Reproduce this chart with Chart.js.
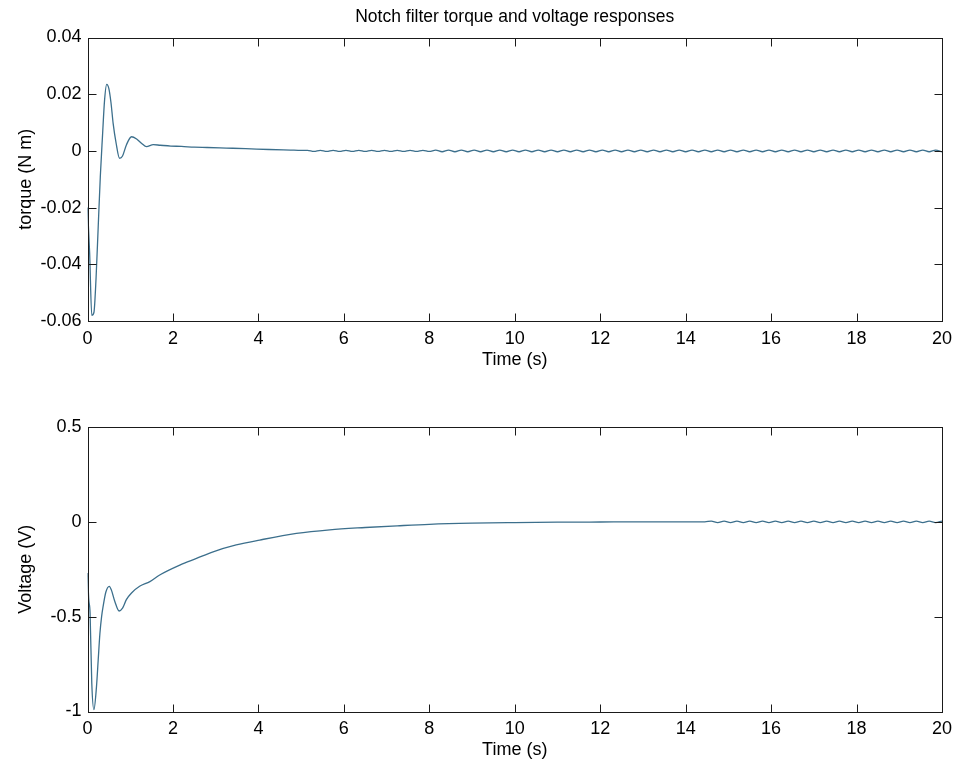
<!DOCTYPE html>
<html>
<head>
<meta charset="utf-8">
<title>Notch filter torque and voltage responses</title>
<script src="https://cdn.jsdelivr.net/npm/chart.js@4.4.1/dist/chart.umd.min.js"></script>
<style>
body{margin:0;background:#fff;}
#torque_box{position:absolute;left:0;top:0;width:959px;height:385px;}
#voltage_box{position:absolute;left:0;top:385px;width:959px;height:384px;}
</style>
</head>
<body>
<div id="torque_box"><canvas id="torque_chart"></canvas></div>
<div id="voltage_box"><canvas id="voltage_chart"></canvas></div>
<script>
//Data
var torque_time = [0, 0.05, 0.1, 0.15, 0.2, 0.25, 0.3, 0.35, 0.4, 0.45, 0.5, 0.55, 0.6, 0.67, 0.75, 0.82, 0.91, 1.03, 1.15, 1.27,
	1.38, 1.54, 1.7, 1.95, 2.2, 2.5, 2.8, 3.25, 3.7, 4.25, 4.75, 5.0,
	5.15,5.3,5.45,5.6,5.75,5.9,6.05,6.2,6.35,6.5,
	6.65,6.8,6.95,7.1,7.25,7.4,7.55,7.7,7.85,8,
	8.15,8.3,8.45,8.6,8.75,8.9,9.05,9.2,9.35,9.5,
	9.65,9.8,9.95,10.1,10.25,10.4,10.55,10.7,10.85,11,
	11.15,11.3,11.45,11.6,11.75,11.9,12.05,12.2,12.35,12.5,
	12.65,12.8,12.95,13.1,13.25,13.4,13.55,13.7,13.85,14,
	14.15,14.3,14.45,14.6,14.75,14.9,15.05,15.2,15.35,15.5,
	15.65,15.8,15.95,16.1,16.25,16.4,16.55,16.7,16.85,17,
	17.15,17.3,17.45,17.6,17.75,17.9,18.05,18.2,18.35,18.5,
	18.65,18.8,18.95,19.1,19.25,19.4,19.55,19.7,19.85,20];
var torque_nm = [-0.020, -0.036, -0.058, -0.057, -0.045, -0.027, -0.009, 0.005, 0.018, 0.0235, 0.022, 0.017, 0.0097, 0.0027, -0.0026, -0.0018, 0.0021, 0.0050, 0.0042, 0.0026,
	0.0015, 0.0022, 0.0020, 0.0017, 0.0016, 0.0013, 0.0012, 0.0010, 0.0008, 0.0005, 0.0003, 0.0002,
	0.0002,-0.0002,0.0002,-0.0002,0.0002,-0.0002,0.0002,-0.0002,0.0002,-0.0002,
	0.0002,-0.0002,0.0002,-0.0002,0.0002,-0.0002,0.0002,-0.0002,0.0002,-0.0002,
	0.0003,-0.0003,0.0003,-0.0003,0.0003,-0.0003,0.0003,-0.0003,0.0003,-0.0003,
	0.0003,-0.0003,0.0003,-0.0003,0.0003,-0.0003,0.0003,-0.0003,0.0003,-0.0003,
	0.0003,-0.0003,0.0003,-0.0003,0.0003,-0.0003,0.0003,-0.0003,0.0003,-0.0003,
	0.0003,-0.0003,0.0003,-0.0003,0.0003,-0.0003,0.0003,-0.0003,0.0003,-0.0003,
	0.0003,-0.0003,0.0003,-0.0003,0.0003,-0.0003,0.0003,-0.0003,0.0003,-0.0003,
	0.0003,-0.0003,0.0003,-0.0003,0.0003,-0.0003,0.0003,-0.0003,0.0003,-0.0003,
	0.0003,-0.0003,0.0003,-0.0003,0.0003,-0.0003,0.0003,-0.0003,0.0003,-0.0003,
	0.0003,-0.0003,0.0003,-0.0003,0.0003,-0.0003,0.0003,-0.0003,0.0003,-0.0003];

var voltage_time = [0, 0.03, 0.06, 0.1, 0.15, 0.21, 0.25, 0.29, 0.33, 0.37, 0.43, 0.51, 0.56, 0.64, 0.74, 0.82, 0.91, 1.03, 1.22, 1.46,
	1.69, 2.16, 2.55, 2.94, 3.48, 4.03, 4.89, 5.67, 6.5, 7.25, 8, 9, 10, 11, 12, 13, 14, 14.45,
	14.6,14.75,14.9,15.05,15.2,15.35,15.5,
	15.65,15.8,15.95,16.1,16.25,16.4,16.55,16.7,16.85,17,
	17.15,17.3,17.45,17.6,17.75,17.9,18.05,18.2,18.35,18.5,
	18.65,18.8,18.95,19.1,19.25,19.4,19.55,19.7,19.85,20];
var voltage_v = [-0.27, -0.41, -0.48, -0.85, -0.99, -0.87, -0.73, -0.59, -0.50, -0.44, -0.37, -0.34, -0.36, -0.42, -0.47, -0.455, -0.41, -0.375, -0.34, -0.315,
	-0.28, -0.228, -0.193, -0.158, -0.122, -0.096, -0.061, -0.042, -0.030, -0.021, -0.013, -0.007, -0.004, -0.002, -0.001, 0, 0, 0,
	0.004,-0.004,0.004,-0.004,0.004,-0.004,0.004,
	-0.004,0.004,-0.004,0.004,-0.004,0.004,-0.004,0.004,-0.004,0.004,
	-0.004,0.004,-0.004,0.004,-0.004,0.004,-0.004,0.004,-0.004,0.004,
	-0.004,0.004,-0.004,0.004,-0.004,0.004,-0.004,0.004,-0.004,0.004];

var x_ticks_step = 2;
var torque_axis = {min: -0.06, max: 0.04, step: 0.02};
var voltage_axis = {min: -1, max: 0.5, step: 0.5};
var figure_title = 'Notch filter torque and voltage responses';

var line_color = '#3c6f8c';
var text_font = {family: '"Liberation Sans", Arial, sans-serif', size: 18};

Chart.defaults.font.family = '"Liberation Sans", Arial, sans-serif';
Chart.defaults.color = '#000';

//MATLAB style box with inward ticks on every side (+ optional title centred over the axes)
var matlab_axes_plugin = {
	id: 'matlab_axes',
	afterDraw: function(chart, args, opts)
	{
		var ctx = chart.ctx, a = chart.chartArea;
		var xs = chart.scales.x, ys = chart.scales.y;
		var L = Math.round(a.left) + 0.5, R = Math.round(a.right) + 0.5;
		var T = Math.round(a.top) + 0.5, B = Math.round(a.bottom) + 0.5;
		var tick_len = 8;
		ctx.save();
		ctx.strokeStyle = '#1a1a1a';
		ctx.lineWidth = 1;
		ctx.strokeRect(L, T, R - L, B - T);
		ctx.beginPath();
		xs.ticks.forEach(function(t)
		{
			var px = Math.round(xs.getPixelForValue(t.value)) + 0.5;
			ctx.moveTo(px, B); ctx.lineTo(px, B - tick_len);
			ctx.moveTo(px, T); ctx.lineTo(px, T + tick_len);
		});
		ys.ticks.forEach(function(t)
		{
			var py = Math.round(ys.getPixelForValue(t.value)) + 0.5;
			ctx.moveTo(L, py); ctx.lineTo(L + tick_len, py);
			ctx.moveTo(R, py); ctx.lineTo(R - tick_len, py);
		});
		ctx.stroke();
		if(opts && opts.text)
		{
			ctx.fillStyle = '#000';
			ctx.font = opts.size + 'px "Liberation Sans", Arial, sans-serif';
			ctx.textAlign = 'center';
			ctx.textBaseline = 'middle';
			ctx.fillText(opts.text, (a.left + a.right) / 2, opts.y);
		}
		ctx.restore();
	}
};

function build_points(times, values)
{
	var pts = [];
	for(var i = 0; i < times.length; i++)
		pts.push({x: times[i], y: values[i]});
	return pts;
}

function create_response_chart(canvas_id, times, values, axis, y_label, opts)
{
	var ctx = document.getElementById(canvas_id).getContext('2d');
	return new Chart(ctx, {
		type: 'line',
		data: {
			datasets: [{
				data: build_points(times, values),
				borderColor: line_color,
				borderWidth: 1.3,
				pointRadius: 0,
				fill: false,
				cubicInterpolationMode: 'monotone'
			}]
		},
		options: {
			animation: false,
			responsive: true,
			maintainAspectRatio: false,
			layout: {padding: {left: 0, right: 15.5, top: opts.top_pad, bottom: 0}},
			plugins: {
				legend: {display: false},
				tooltip: {enabled: false},
				title: {display: false},
				matlab_axes: opts.title
			},
			scales: {
				x: {
					type: 'linear', min: 0, max: 20,
					ticks: {stepSize: x_ticks_step, font: text_font, color: '#000', padding: 7, maxRotation: 0, autoSkip: false},
					grid: {drawOnChartArea: false, drawTicks: false},
					border: {display: false},
					title: {display: true, text: 'Time (s)', font: text_font, color: '#000', padding: {top: 0, bottom: opts.x_title_pad}},
					afterFit: function(s){ s.height = opts.x_height; }
				},
				y: {
					min: axis.min, max: axis.max,
					ticks: {
						stepSize: axis.step, font: text_font, color: '#000', padding: 6,
						callback: function(v){ return parseFloat(Number(v).toFixed(2)).toString(); }
					},
					grid: {drawOnChartArea: false, drawTicks: false},
					border: {display: false},
					title: {display: true, text: y_label, font: text_font, color: '#000', padding: {top: 15, bottom: 0}},
					afterFit: function(s){ s.width = 87.5; }
				}
			}
		},
		plugins: [matlab_axes_plugin]
	});
}

create_response_chart('torque_chart', torque_time, torque_nm, torque_axis, 'torque (N m)', {
	top_pad: 37.5,
	x_height: 64,
	x_title_pad: 14,
	title: {text: figure_title, size: 17.5, y: 17}
});

create_response_chart('voltage_chart', voltage_time, voltage_v, voltage_axis, 'Voltage (V)', {
	top_pad: 42,
	x_height: 57.5,
	x_title_pad: 7.7,
	title: {}
});
</script>
</body>
</html>
